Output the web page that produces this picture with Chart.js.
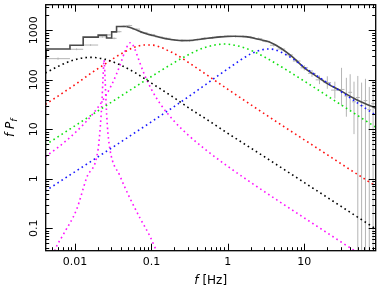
<!DOCTYPE html>
<html>
<head>
<meta charset="utf-8">
<script src="https://cdn.jsdelivr.net/npm/chart.js@4.4.1/dist/chart.umd.min.js"></script>
<style>
  html, body { margin: 0; padding: 0; background: #fff; }
</style>
</head>
<body>
<canvas id="psd" width="381" height="290"></canvas>
<script>
// axis ranges and labelled ticks
const xMin = 0.00414, xMax = 85.9;
const yMin = 0.0353, yMax = 3300;
const xTickValues = [0.01, 0.1, 1, 10];
const yTickValues = [0.1, 1, 10, 100, 1000];

// measured power (frequency bins, values, error range)
const dataEdges = [0.0042, 0.0086, 0.0128, 0.0201, 0.0259, 0.0302, 0.035, 0.0406, 0.047, 0.056, 0.071, 0.089, 0.112, 0.141, 0.178, 0.224, 0.282, 0.355, 0.447, 0.562, 0.708, 0.891, 1.12, 1.41, 1.78, 2.24, 2.82, 3.55, 4.47, 5.62, 7.08, 8.91, 11.2, 14.1, 17.8, 22.4, 28.2, 33.5, 37.6, 42.2, 47.3, 53.1, 59.6, 66.8, 75, 84];
const dataF = [0.006, 0.0105, 0.016, 0.0228, 0.028, 0.0325, 0.0377, 0.0437, 0.051, 0.063, 0.079, 0.1, 0.126, 0.158, 0.2, 0.251, 0.316, 0.398, 0.501, 0.631, 0.794, 1.0, 1.26, 1.58, 2.0, 2.51, 3.16, 3.98, 5.01, 6.31, 7.94, 10, 12.6, 15.8, 20, 25.1, 30.7, 35.5, 39.8, 44.7, 50.1, 56.2, 63.1, 70.8, 79.4];
const dataV = [268, 415, 505, 740, 810, 690, 940, 1210, 1250, 1060, 900, 820, 735, 690, 640, 628, 615, 650, 690, 715, 745, 770, 755, 760, 720, 680, 600, 500, 420, 320, 240, 175, 135, 100, 88, 62, 64, 47, 56, 36, 44, 30, 38, 25, 33];
const dataLo = [255, 398, 486, 712, 778, 662, 902, 1162, 1200, 1018, 864, 787, 705, 662, 612, 600, 588, 622, 660, 684, 712, 735, 720, 724, 685, 645, 568, 470, 392, 295, 218, 155, 115, 82, 66, 42, 30, 18, 24, 8, 0.01, 0.01, 0.01, 0.01, 0.01];
const dataHi = [282, 432, 524, 768, 842, 718, 978, 1258, 1300, 1102, 936, 853, 765, 718, 668, 656, 642, 678, 720, 746, 778, 805, 790, 796, 755, 715, 632, 530, 448, 345, 262, 198, 158, 122, 118, 92, 175, 110, 130, 92, 120, 88, 105, 72, 95];

// total model: binned steps at low frequency, then a smooth line
const histEdges = [0.0042, 0.0086, 0.0128, 0.0201, 0.0259, 0.0302, 0.035, 0.0406, 0.047];
const histSteps = [265, 420, 500, 730, 800, 700, 930, 1200];
const histLineF = [0.047, 0.055, 0.065, 0.08, 0.1, 0.13, 0.17, 0.25, 0.35, 0.5, 0.8, 1.2, 1.8, 2.5, 3.5, 5, 7, 10, 14, 20, 30, 45, 60, 85];
const histLineV = [1200, 1120, 1000, 880, 800, 720, 660, 620, 630, 680, 740, 760, 740, 660, 580, 430, 290, 175, 122, 84, 60, 42, 34, 27];

// model components
const blackF = [0.0041, 0.006, 0.01, 0.016, 0.025, 0.04, 0.06, 0.1, 0.2, 0.32, 0.5, 1, 3, 10, 30, 90];
const blackV = [137, 187, 256, 285, 259, 197, 142, 86, 43, 26, 16.8, 8.3, 2.8, 0.84, 0.28, 0.093];
const redF = [0.0041, 0.006, 0.01, 0.018, 0.025, 0.033, 0.045, 0.06, 0.08, 0.1, 0.13, 0.17, 0.2, 0.32, 0.5, 1, 2, 5, 10, 20, 50, 90];
const redV = [32, 47, 80, 152, 211, 281, 370, 456, 505, 506, 462, 381, 339, 214, 134, 64.4, 31.4, 12.3, 6.14, 3.06, 1.22, 0.68];
const greenF = [0.0041, 0.01, 0.03, 0.1, 0.2, 0.3, 0.5, 0.9, 1.5, 2, 3, 5, 10, 30, 90];
const greenV = [4.84, 11.8, 35.4, 116.6, 225, 318, 450, 529, 466, 395, 291, 184, 94.2, 31.6, 10.55];
const blueF = [0.0041, 0.01, 0.03, 0.1, 0.3, 1, 2, 3, 3.4, 4, 5, 7, 10, 15, 20, 30, 50, 90];
const blueV = [0.568, 1.39, 4.18, 14.2, 44.7, 167, 335, 415, 421, 411, 360, 270, 180, 118, 88, 58.4, 33.9, 18.4];
const qpoNarrowF = [0.0052, 0.0055, 0.007, 0.0105, 0.0142, 0.0201, 0.0215, 0.0225, 0.0232, 0.0237, 0.024, 0.0243, 0.0248, 0.0255, 0.0265, 0.0286, 0.0387, 0.0522, 0.0706, 0.0953, 0.117, 0.125];
const qpoNarrowV = [0.028, 0.037, 0.074, 0.24, 1.05, 4, 12, 35, 100, 200, 253, 200, 100, 35, 12, 4, 1.15, 0.41, 0.163, 0.07, 0.035, 0.03];
const qpoF = [0.0041, 0.006, 0.008, 0.01, 0.013, 0.016, 0.02, 0.025, 0.03, 0.035, 0.04, 0.045, 0.05, 0.053, 0.056, 0.06, 0.065, 0.07, 0.08, 0.1, 0.13, 0.2, 0.3, 0.5, 1, 2, 5, 10, 20, 50, 85];
const qpoV = [2.8, 4.31, 6.24, 8.51, 12.7, 18.1, 27.9, 46.7, 77.9, 131.8, 225, 374, 528, 561, 532, 437, 316, 229, 134, 64.3, 33, 14.4, 7.76, 3.98, 1.78, 0.843, 0.327, 0.162, 0.0804, 0.032, 0.0188];

function pairs(xs, ys) {
  return xs.map((x, i) => ({ x: x, y: ys[i] }));
}

function dotted(label, xs, ys, color) {
  return {
    label: label,
    data: pairs(xs, ys),
    borderColor: color,
    borderWidth: 1.6,
    borderDash: [1.6, 3.2],
    pointRadius: 0,
    fill: false,
    cubicInterpolationMode: 'monotone'
  };
}

// step points: each bin starts at its left edge, last edge closes the final bin
const stepPoints = histEdges.map((e, i) => ({ x: e, y: histSteps[Math.min(i, histSteps.length - 1)] }));

// error bars, inward ticks, frame and axis titles
const decorations = {
  id: 'decorations',
  beforeDatasetsDraw(chart) {
    const { ctx, chartArea: a, scales: { x, y } } = chart;
    ctx.save();
    ctx.beginPath();
    ctx.rect(a.left, a.top, a.right - a.left, a.bottom - a.top);
    ctx.clip();
    ctx.strokeStyle = '#b4b4b4';
    ctx.lineWidth = 1;
    ctx.beginPath();
    dataF.forEach((f, i) => {
      const px = x.getPixelForValue(f);
      const py = y.getPixelForValue(dataV[i]);
      ctx.moveTo(px, y.getPixelForValue(dataLo[i]));
      ctx.lineTo(px, y.getPixelForValue(dataHi[i]));
      ctx.moveTo(x.getPixelForValue(dataEdges[i]), py);
      ctx.lineTo(x.getPixelForValue(dataEdges[i + 1]), py);
    });
    ctx.stroke();
    ctx.restore();
  },
  afterDraw(chart) {
    const { ctx, chartArea: a, scales: { x, y } } = chart;
    ctx.save();
    ctx.strokeStyle = '#000';
    ctx.lineWidth = 1;
    ctx.beginPath();
    // x ticks, bottom and top
    for (let e = Math.floor(Math.log10(xMin)); e <= Math.ceil(Math.log10(xMax)); e++) {
      for (let m = 1; m <= 9; m++) {
        const v = m * Math.pow(10, e);
        if (v <= xMin || v >= xMax) continue;
        const px = Math.round(x.getPixelForValue(v)) + 0.5;
        const len = m === 1 ? 7 : 3.5;
        ctx.moveTo(px, a.bottom); ctx.lineTo(px, a.bottom - len);
        ctx.moveTo(px, a.top); ctx.lineTo(px, a.top + len);
      }
    }
    // y ticks, left and right
    for (let e = Math.floor(Math.log10(yMin)); e <= Math.ceil(Math.log10(yMax)); e++) {
      for (let m = 1; m <= 9; m++) {
        const v = m * Math.pow(10, e);
        if (v <= yMin || v >= yMax) continue;
        const py = Math.round(y.getPixelForValue(v)) + 0.5;
        const len = m === 1 ? 7 : 3.5;
        ctx.moveTo(a.left, py); ctx.lineTo(a.left + len, py);
        ctx.moveTo(a.right, py); ctx.lineTo(a.right - len, py);
      }
    }
    ctx.stroke();
    ctx.lineWidth = 1.3;
    ctx.strokeRect(a.left, a.top, a.right - a.left, a.bottom - a.top);

    // y tick labels, rotated
    ctx.fillStyle = '#000';
    ctx.font = '11px "DejaVu Sans"';
    ctx.textAlign = 'center';
    ctx.textBaseline = 'middle';
    yTickValues.forEach(v => {
      const py = y.getPixelForValue(v);
      ctx.save();
      ctx.translate(a.left - 12, py);
      ctx.rotate(-Math.PI / 2);
      ctx.fillText(String(v), 0, 0);
      ctx.restore();
    });

    // x title: f [Hz]
    const cx = (a.left + a.right) / 2;
    ctx.textAlign = 'left';
    ctx.textBaseline = 'alphabetic';
    ctx.font = 'italic 12px "DejaVu Sans"';
    const wF = ctx.measureText('f').width;
    ctx.font = '12px "DejaVu Sans"';
    const wHz = ctx.measureText(' [Hz]').width;
    let sx = cx - (wF + wHz) / 2;
    ctx.font = 'italic 12px "DejaVu Sans"';
    ctx.fillText('f', sx, 284);
    ctx.font = '12px "DejaVu Sans"';
    ctx.fillText(' [Hz]', sx + wF, 284);

    // y title: f P_f
    const cy = (a.top + a.bottom) / 2;
    ctx.save();
    ctx.translate(14, cy);
    ctx.rotate(-Math.PI / 2);
    ctx.font = 'italic 12px "DejaVu Sans"';
    const wMain = ctx.measureText('f P').width;
    ctx.font = 'italic 9px "DejaVu Sans"';
    const wSub = ctx.measureText('f').width;
    let tx = -(wMain + wSub) / 2;
    ctx.font = 'italic 12px "DejaVu Sans"';
    ctx.fillText('f P', tx, 0);
    ctx.font = 'italic 9px "DejaVu Sans"';
    ctx.fillText('f', tx + wMain, 3);
    ctx.restore();
    ctx.restore();
  }
};

new Chart(document.getElementById('psd'), {
  type: 'line',
  data: {
    datasets: [
      dotted('low-frequency component', blackF, blackV, '#000000'),
      dotted('red component', redF, redV, '#ff1010'),
      dotted('green component', greenF, greenV, '#10e010'),
      dotted('blue component', blueF, blueV, '#1818ff'),
      dotted('narrow QPO', qpoNarrowF, qpoNarrowV, '#ff10ff'),
      dotted('QPO', qpoF, qpoV, '#ff10ff'),
      {
        label: 'model (binned)',
        data: stepPoints,
        stepped: 'after',
        borderColor: '#4a4a4a',
        borderWidth: 1.6,
        pointRadius: 0,
        fill: false
      },
      {
        label: 'model',
        data: pairs(histLineF, histLineV),
        borderColor: '#4a4a4a',
        borderWidth: 1.6,
        pointRadius: 0,
        fill: false,
        cubicInterpolationMode: 'monotone'
      }
    ]
  },
  options: {
    responsive: false,
    devicePixelRatio: 1,
    animation: false,
    layout: { padding: { left: 0, right: 5.3, top: 4.7, bottom: 0 } },
    plugins: { legend: { display: false }, tooltip: { enabled: false } },
    scales: {
      x: {
        type: 'logarithmic',
        min: xMin,
        max: xMax,
        grid: { display: false, drawTicks: false },
        border: { display: false },
        ticks: {
          color: '#000',
          font: { family: 'DejaVu Sans', size: 11 },
          padding: 5,
          maxRotation: 0,
          autoSkip: false,
          callback: v => String(v)
        },
        afterBuildTicks: s => { s.ticks = xTickValues.map(v => ({ value: v })); },
        afterFit: s => { s.height = 39.3; }
      },
      y: {
        type: 'logarithmic',
        min: yMin,
        max: yMax,
        grid: { display: false, drawTicks: false },
        border: { display: false },
        ticks: { display: false },
        afterBuildTicks: s => { s.ticks = yTickValues.map(v => ({ value: v })); },
        afterFit: s => { s.width = 45.7; }
      }
    }
  },
  plugins: [decorations]
});
</script>
</body>
</html>
